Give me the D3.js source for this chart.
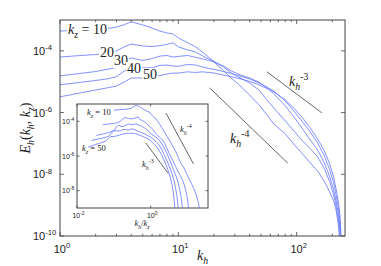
<!DOCTYPE html>
<html>
<head>
<meta charset="utf-8">
<script src="https://cdn.jsdelivr.net/npm/d3@7"></script>
<style>
  body { margin: 0; background: #fff; }
  svg { display: block; }
  .frame { fill: none; stroke: #444; stroke-width: 1; }
  .inset-bg { fill: #fff; stroke: #444; stroke-width: 1; }
  .tk { font-family: "Liberation Sans", Arial, sans-serif; fill: #222; }
  .math { font-family: "Liberation Serif", "Times New Roman", serif; fill: #222; }
  .curve { fill: none; stroke: #6a7dff; stroke-width: 0.85; stroke-linejoin: round; }
  .guide { stroke: #555; stroke-width: 0.9; }
  .ticks line { stroke: #444; stroke-width: 0.8; }
</style>
</head>
<body>
<svg id="fig" width="381" height="266"></svg>
<script>
// horizontal wavenumber samples
const kh = [1, 1.5, 2, 2.5, 3, 3.5, 4, 5, 6, 7, 8, 9, 10, 12, 14, 16, 18, 20, 24, 28, 32,
  40, 48, 56, 64, 80, 96, 112, 128, 150, 170, 190, 205, 215, 225, 232, 236, 240];

// log10 of E_h(k_h, k_z) for each k_z
const logE_kz10 = [-3.36, -3.32, -3.31, -3.28, -3.23, -3.15, -3.06, -3.16, -3.26, -3.36, -3.42, -3.45,
  -3.58, -3.74, -3.87, -4.04, -4.20, -4.36, -4.63, -4.89, -5.07, -5.43, -5.75, -6.07, -6.37, -6.69,
  -7.05, -7.34, -7.60, -7.89, -8.21, -8.57, -8.86, -9.15, -9.64, -10.28, -11.09, -12];
const logE_kz20 = [-4.20, -4.15, -4.12, -4.08, -4.00, -3.87, -3.78, -3.84, -3.86, -3.83, -3.79, -3.74,
  -3.87, -3.97, -4.04, -4.16, -4.26, -4.34, -4.52, -4.72, -4.84, -5.04, -5.27, -5.59, -5.85, -6.27,
  -6.62, -6.92, -7.14, -7.43, -7.79, -8.24, -8.66, -9.02, -9.47, -9.86, -10.44, -12];
const logE_kz30 = [-4.81, -4.73, -4.67, -4.60, -4.54, -4.33, -4.23, -4.31, -4.25, -4.17, -4.15, -4.20,
  -4.18, -4.15, -4.21, -4.26, -4.31, -4.36, -4.49, -4.65, -4.75, -4.88, -5.01, -5.20, -5.39, -5.78,
  -6.17, -6.53, -6.85, -7.21, -7.60, -8.08, -8.50, -8.86, -9.28, -9.73, -10.18, -12];
const logE_kz40 = [-5.10, -5.02, -4.96, -4.91, -4.84, -4.65, -4.54, -4.55, -4.55, -4.47, -4.46, -4.49,
  -4.50, -4.44, -4.46, -4.52, -4.57, -4.60, -4.67, -4.73, -4.80, -4.91, -5.04, -5.17, -5.30, -5.62,
  -5.98, -6.30, -6.59, -6.98, -7.37, -7.85, -8.27, -8.66, -9.08, -9.54, -10.1, -12];
const logE_kz50 = [-5.49, -5.36, -5.27, -5.20, -5.14, -5.01, -4.88, -4.88, -4.84, -4.80, -4.75, -4.72,
  -4.72, -4.68, -4.70, -4.68, -4.70, -4.72, -4.78, -4.84, -4.89, -4.99, -5.10, -5.22, -5.33, -5.59,
  -5.88, -6.17, -6.46, -6.85, -7.21, -7.66, -8.08, -8.47, -8.89, -9.31, -9.80, -12];

const kzValues = [10, 20, 30, 40, 50];
const logE = [logE_kz10, logE_kz20, logE_kz30, logE_kz40, logE_kz50];

// reference slopes, end points [k, E]
const guideMainK3 = [[56, 2.1e-5], [163, 9.8e-7]];
const guideMainK4 = [[18.4, 6.3e-6], [84, 2.3e-8]];
const guideInsetK4 = [[2.6, 3.0e-4], [14.5, 3.5e-7]];
const guideInsetK3 = [[0.74, 5.6e-6], [3.0, 1.0e-7]];

// tick values
const xTicksMain = [1, 10, 100];
const yTicksMain = [1e-4, 1e-6, 1e-8, 1e-10];
const xTicksInset = [1e-2, 1];
const yTicksInset = [1e-4, 1e-6, 1e-8];

const svg = d3.select("#fig");

function mathText(g, x, y, size, parts, opts = {}) {
  const t = g.append("text")
    .attr("class", opts.cls || "math")
    .attr("font-size", size)
    .attr("text-anchor", opts.anchor || "start");
  if (opts.rotate) t.attr("transform", `translate(${x},${y}) rotate(-90)`);
  else t.attr("x", x).attr("y", y);
  let shift = 0;
  parts.forEach(([s, kind]) => {
    const target = kind.startsWith("sub") ? 0.3 * size : kind.startsWith("sup") ? -0.42 * size : 0;
    t.append("tspan")
      .attr("dy", target - shift)
      .attr("font-size", target === 0 ? size : size * 0.7)
      .attr("font-style", kind.endsWith("i") ? "italic" : "normal")
      .text(s);
    shift = target;
  });
  if (opts.bg) {
    // white box behind the label, like matlab text with BackgroundColor
    const b = t.node().getBBox();
    g.insert("rect", () => t.node())
      .attr("x", b.x - 1).attr("y", b.y + 1)
      .attr("width", b.width + 2).attr("height", b.height - 1)
      .attr("fill", "#fff");
  }
  return t;
}

const series = kzValues.map((kz, j) => ({
  kz,
  values: kh.map((k, i) => ({k, E: Math.pow(10, logE[j][i])}))
}));

// ---------- main axes ----------
const M = {left: 60, right: 345, top: 20, bottom: 236};
const x = d3.scaleLog().domain([1, 256]).range([M.left, M.right]);
const y = d3.scaleLog().domain([1e-10, 1e-3]).range([M.bottom, M.top]);

svg.append("defs").append("clipPath").attr("id", "clipMain")
  .append("rect").attr("x", M.left).attr("y", M.top)
  .attr("width", M.right - M.left).attr("height", M.bottom - M.top);

const line = d3.line().x(d => x(d.k)).y(d => y(d.E));
const main = svg.append("g").attr("clip-path", "url(#clipMain)");
main.selectAll("path.curve").data(series).join("path")
  .attr("class", "curve")
  .attr("d", d => line(d.values));

[guideMainK3, guideMainK4].forEach(gd => {
  svg.append("line").attr("class", "guide")
    .attr("x1", x(gd[0][0])).attr("y1", y(gd[0][1]))
    .attr("x2", x(gd[1][0])).attr("y2", y(gd[1][1]));
});

// ticks (inward, log minor ticks on x)
const ticks = svg.append("g").attr("class", "ticks");
const xMinor = [];
for (let d = 1; d <= 100; d *= 10) for (let m = 2; m <= 9; m++) if (d * m <= 256) xMinor.push(d * m);
xTicksMain.forEach(v => {
  ticks.append("line").attr("x1", x(v)).attr("x2", x(v)).attr("y1", M.bottom).attr("y2", M.bottom - 4);
  ticks.append("line").attr("x1", x(v)).attr("x2", x(v)).attr("y1", M.top).attr("y2", M.top + 4);
});
xMinor.forEach(v => {
  ticks.append("line").attr("x1", x(v)).attr("x2", x(v)).attr("y1", M.bottom).attr("y2", M.bottom - 2.2);
  ticks.append("line").attr("x1", x(v)).attr("x2", x(v)).attr("y1", M.top).attr("y2", M.top + 2.2);
});
yTicksMain.forEach(v => {
  ticks.append("line").attr("x1", M.left).attr("x2", M.left + 4).attr("y1", y(v)).attr("y2", y(v));
  ticks.append("line").attr("x1", M.right).attr("x2", M.right - 4).attr("y1", y(v)).attr("y2", y(v));
});

xTicksMain.forEach(v => {
  mathText(svg, x(v) + 2, 253, 11, [["10", "r"], [String(Math.round(Math.log10(v))), "supr"]],
    {cls: "tk", anchor: "middle"});
});
yTicksMain.forEach(v => {
  mathText(svg, 33, y(v) + 4, 11, [["10", "r"], ["-" + Math.round(-Math.log10(v)), "supr"]], {cls: "tk"});
});

// curve labels
mathText(svg, 68, 34, 14, [["k", "i"], ["z", "subi"], [" = 10", "r"]], {bg: true});
mathText(svg, 100, 57, 14, [["20", "r"]], {bg: true});
mathText(svg, 114, 65, 14, [["30", "r"]], {bg: true});
mathText(svg, 127, 73, 14, [["40", "r"]], {bg: true});
mathText(svg, 143, 79, 14, [["50", "r"]], {bg: true});
mathText(svg, 289, 86, 14, [["k", "i"], ["h", "subi"], ["-3", "supr"]]);
mathText(svg, 230, 143, 14, [["k", "i"], ["h", "subi"], ["-4", "supr"]], {bg: true});

// axis titles
mathText(svg, 30, 128, 14,
  [["E", "i"], ["h", "subi"], ["(", "r"], ["k", "i"], ["h", "subi"], [", ", "r"], ["k", "i"], ["z", "subi"], [")", "r"]],
  {anchor: "middle", rotate: true});
mathText(svg, 197, 260, 14, [["k", "i"], ["h", "subi"]]);

svg.append("rect").attr("class", "frame")
  .attr("x", M.left).attr("y", M.top)
  .attr("width", M.right - M.left).attr("height", M.bottom - M.top);

// ---------- inset ----------
const I = {left: 77, right: 208, top: 104, bottom: 208};
const xi = d3.scaleLog().domain([0.01, 36]).range([I.left, I.right]);
const yi = d3.scaleLog().domain([1e-9, 1e-3]).range([I.bottom, I.top]);

svg.append("rect").attr("class", "inset-bg")
  .attr("x", I.left).attr("y", I.top)
  .attr("width", I.right - I.left).attr("height", I.bottom - I.top);

svg.select("defs").append("clipPath").attr("id", "clipInset")
  .append("rect").attr("x", I.left).attr("y", I.top)
  .attr("width", I.right - I.left).attr("height", I.bottom - I.top);

const lineInset = d3.line().y(d => yi(d.E));
const inset = svg.append("g").attr("clip-path", "url(#clipInset)");
inset.selectAll("path.curve").data(series).join("path")
  .attr("class", "curve")
  .attr("d", s => lineInset.x(d => xi(d.k / s.kz))(s.values));

[guideInsetK4, guideInsetK3].forEach(gd => {
  svg.append("line").attr("class", "guide").attr("stroke-width", 0.8)
    .attr("x1", xi(gd[0][0])).attr("y1", yi(gd[0][1]))
    .attr("x2", xi(gd[1][0])).attr("y2", yi(gd[1][1]));
});

const ticksI = svg.append("g").attr("class", "ticks");
xTicksInset.forEach(v => {
  ticksI.append("line").attr("x1", xi(v)).attr("x2", xi(v)).attr("y1", I.bottom).attr("y2", I.bottom - 2.5);
  ticksI.append("line").attr("x1", xi(v)).attr("x2", xi(v)).attr("y1", I.top).attr("y2", I.top + 2.5);
});
yTicksInset.forEach(v => {
  ticksI.append("line").attr("x1", I.left).attr("x2", I.left + 2.5).attr("y1", yi(v)).attr("y2", yi(v));
  ticksI.append("line").attr("x1", I.right).attr("x2", I.right - 2.5).attr("y1", yi(v)).attr("y2", yi(v));
});
xTicksInset.forEach(v => {
  const e = Math.round(Math.log10(v));
  mathText(svg, xi(v) + 1.5, 218, 7, [["10", "r"], [e < 0 ? "-" + (-e) : String(e), "supr"]],
    {cls: "tk", anchor: "middle"});
});
yTicksInset.forEach(v => {
  mathText(svg, 62, yi(v) + 2.5, 7, [["10", "r"], ["-" + Math.round(-Math.log10(v)), "supr"]], {cls: "tk"});
});

mathText(svg, 87, 115, 8.5, [["k", "i"], ["z", "subi"], [" = 10", "r"]]);
mathText(svg, 82, 151, 8.5, [["k", "i"], ["z", "subi"], [" = 50", "r"]]);
mathText(svg, 180, 132, 8.5, [["k", "i"], ["h", "subi"], ["-4", "supr"]]);
mathText(svg, 142, 167, 8.5, [["k", "i"], ["h", "subi"], ["-3", "supr"]]);
mathText(svg, 142, 226, 8.5, [["k", "i"], ["h", "subi"], ["/", "r"], ["k", "i"], ["z", "subi"]], {anchor: "middle"});
</script>
</body>
</html>
